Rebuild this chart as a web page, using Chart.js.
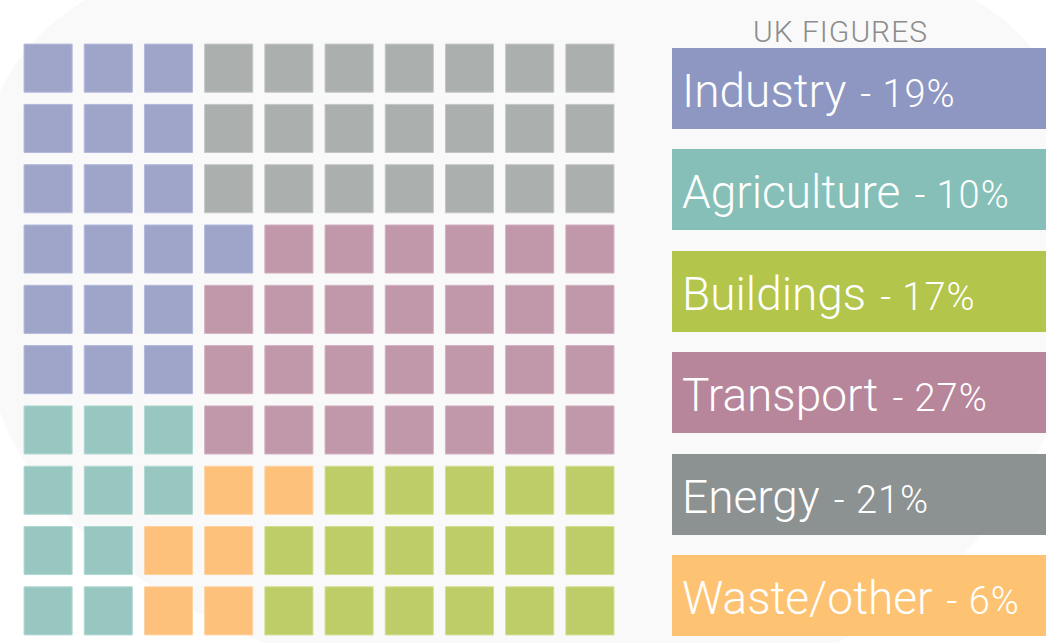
<!DOCTYPE html>
<html>
<head>
<meta charset="utf-8">
<title>UK figures waffle</title>
<script src="https://cdn.jsdelivr.net/npm/chart.js@4.4.1/dist/chart.umd.min.js"></script>
<style>
  html, body {
    margin: 0;
    padding: 0;
    width: 1046px;
    height: 643px;
    overflow: hidden;
    background: #ffffff;
    font-family: Roboto, "Noto Sans", sans-serif;
    font-weight: 300;
  }
  #backdrop {
    position: absolute;
    left: -15px;
    top: -40px;
    width: 1090px;
    height: 740px;
    background: #f9f9f9;
    border-radius: 250px 250px 490px 600px / 200px 200px 400px 370px;
  }
  #chartBox {
    position: absolute;
    left: 0;
    top: 0;
    width: 640px;
    height: 643px;
  }
  #legendTitle {
    position: absolute;
    left: 753px;
    top: 17px;
    font-size: 30px;
    line-height: 30px;
    letter-spacing: 1px;
    color: #8c8c8c;
    white-space: nowrap;
  }
  .legend-row {
    position: absolute;
    left: 672px;
    width: 374px;
    height: 81px;
    line-height: 81px;
    color: #ffffff;
    white-space: nowrap;
    box-sizing: border-box;
    padding-left: 10px;
    padding-top: 3px;
  }
  .legend-row .name { font-size: 46px; }
  .legend-row .pct { font-size: 38px; letter-spacing: 1px; margin-left: 14px; }
</style>
</head>
<body>
<div id="backdrop"></div>
<div id="chartBox"><canvas id="waffle"></canvas></div>
<div id="legendTitle">UK FIGURES</div>
<div id="legend"></div>

<script>
// ---------- data ----------
const categories = ["Industry", "Agriculture", "Buildings", "Transport", "Energy", "Waste/other"];
const shares = [19, 10, 17, 27, 21, 6];
const codes = ["I", "A", "B", "T", "E", "W"];

// 10 x 10 layout, top row first, one letter per cell
const gridRows = [
    "IIIEEEEEEE",
    "IIIEEEEEEE",
    "IIIEEEEEEE",
    "IIIITTTTTT",
    "IIITTTTTTT",
    "IIITTTTTTT",
    "AAATTTTTTT",
    "AAAWWBBBBB",
    "AAWWBBBBBB",
    "AAWWBBBBBB",
];

// colours
const cellColors = ["#9ea5c8", "#97c7c0", "#bfcd68", "#c197aa", "#abafae", "#fdc17c"];
const cellEdges = ["#b3b9dc", "#b1d9d3", "#d3df8e", "#d3b1c0", "#c3c6c5", "#fdd3a2"];
const boxColors = ["#8e97c2", "#85bfb7", "#b3c54b", "#b8869a", "#8c9191", "#fdc372"];

// ---------- waffle ----------
function cellsFor(code) {
    const pts = [];
    gridRows.forEach((row, r) => {
        row.split("").forEach((ch, c) => {
            if (ch === code) pts.push({ x: c, y: r });
        });
    });
    return pts;
}

const datasets = categories.map((name, i) => ({
    label: name,
    data: cellsFor(codes[i]),
    pointStyle: "rect",
    pointRadius: 34,
    pointHoverRadius: 34,
    backgroundColor: cellColors[i],
    borderColor: cellEdges[i],
    borderWidth: 1,
    clip: false,
}));

new Chart(document.getElementById("waffle"), {
    type: "scatter",
    data: { datasets },
    options: {
        responsive: true,
        maintainAspectRatio: false,
        animation: false,
        events: [],
        layout: { autoPadding: false, padding: { left: 18, right: 20, top: 38, bottom: 2 } },
        plugins: {
            legend: { display: false },
            tooltip: { enabled: false },
        },
        scales: {
            x: { type: "linear", min: -0.5, max: 9.5, display: false },
            y: { type: "linear", min: -0.5, max: 9.5, reverse: true, display: false },
        },
    },
});

// ---------- legend boxes ----------
const legendEl = document.getElementById("legend");
categories.forEach((name, i) => {
    const row = document.createElement("div");
    row.className = "legend-row";
    row.style.top = (48 + i * 101.4) + "px";
    row.style.background = boxColors[i];
    row.innerHTML = `<span class="name">${name}</span><span class="pct">- ${shares[i]}%</span>`;
    legendEl.appendChild(row);
});
</script>
</body>
</html>
